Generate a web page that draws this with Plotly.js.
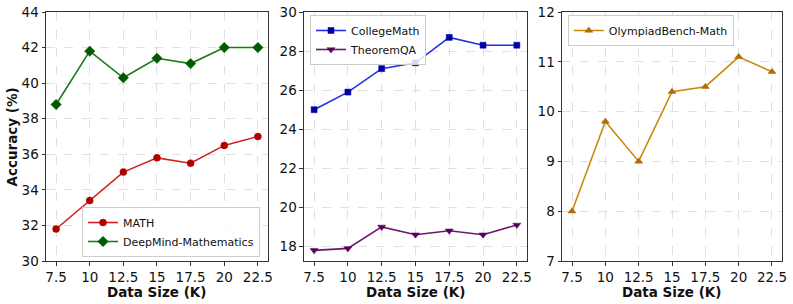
<!DOCTYPE html>
<html><head><meta charset="utf-8">
<script src="https://cdn.plot.ly/plotly-3.0.1.min.js"></script>
<style>html,body{margin:0;padding:0;background:#fff;}#chart{width:793px;height:304px;}</style>
</head><body><div id="chart"></div>
<script>
const dataSize = [7.5, 10, 12.5, 15, 17.5, 20, 22.5];
const xTickVals = [7.5, 10, 12.5, 15, 17.5, 20, 22.5];
const xTickText = ['7.5', '10', '12.5', '15', '17.5', '20', '22.5'];
const mathAcc = [31.8, 33.4, 35.0, 35.8, 35.5, 36.5, 37.0];
const deepmindAcc = [38.8, 41.8, 40.3, 41.4, 41.1, 42.0, 42.0];
const collegeMathAcc = [25.0, 25.9, 27.1, 27.4, 28.7, 28.3, 28.3];
const theoremQAAcc = [17.8, 17.9, 19.0, 18.6, 18.8, 18.6, 19.1];
const olympiadAcc = [8.0, 9.8, 9.0, 10.4, 10.5, 11.1, 10.8];
const xTitle = 'Data Size (K)';
const yTitle = 'Accuracy (%)';

const F = 'DejaVu Sans, sans-serif';
const TF = 13.5;
function tr(y, name, line, mk, sym, xa, ya, lg, size) {
  return {x: dataSize, y: y, name: name, type: 'scatter', mode: 'lines+markers',
    xaxis: xa, yaxis: ya, legend: lg,
    line: {color: line, width: 1.6},
    marker: {color: mk, symbol: sym, size: size || 7, line: {color: mk, width: 0.5}}};
}
const traces = [
  tr(mathAcc, 'MATH', '#d42020', '#b00000', 'circle', 'x', 'y', 'legend'),
  tr(deepmindAcc, 'DeepMind-Mathematics', '#1a7a1a', '#005a00', 'diamond', 'x', 'y', 'legend', 8),
  tr(collegeMathAcc, 'CollegeMath', '#2030e0', '#0000aa', 'square', 'x2', 'y2', 'legend2', 6),
  tr(theoremQAAcc, 'TheoremQA', '#6a1a6a', '#5a005a', 'triangle-down', 'x2', 'y2', 'legend2', 7),
  tr(olympiadAcc, 'OlympiadBench-Math', '#c8880a', '#b06c00', 'triangle-up', 'x3', 'y3', 'legend3', 7)
];
function xa(dom, anchor) {
  return {domain: dom, anchor: anchor, range: [6.75, 23.25], tickvals: xTickVals, ticktext: xTickText,
    showline: true, mirror: true, linecolor: '#333', linewidth: 1, ticks: 'outside', ticklen: 3.5, tickcolor: '#333',
    showgrid: true, gridcolor: '#d8d8d8', griddash: 'dash', gridwidth: 0.8, zeroline: false,
    tickfont: {family: F, size: TF, color: '#111'}};
}
function ya(range, anchor, dtick) {
  return {domain: [0, 1], anchor: anchor, range: range, dtick: dtick, tick0: 0,
    showline: true, mirror: true, linecolor: '#333', linewidth: 1, ticks: 'outside', ticklen: 3.5, tickcolor: '#333',
    showgrid: true, gridcolor: '#d8d8d8', griddash: 'dash', gridwidth: 0.8, zeroline: false,
    tickfont: {family: F, size: TF, color: '#111'}};
}
function lg(x, y, xanchor, yanchor) {
  return {x: x, y: y, xanchor: xanchor, yanchor: yanchor, xref: 'paper', yref: 'paper',
    bgcolor: 'rgba(255,255,255,0.85)', bordercolor: '#ccc', borderwidth: 1,
    font: {family: F, size: 11, color: '#111'}, tracegroupgap: 0, itemwidth: 30};
}
function xTitleAnn(cx) {
  return {text: '<b>' + xTitle + '</b>', xref: 'paper', yref: 'paper', x: cx, y: -0.1225,
    xanchor: 'center', yanchor: 'middle', showarrow: false, font: {family: F, size: 13.5, color: '#111'}};
}
const layout = {
  width: 793, height: 304, margin: {l: 46, r: 11, t: 12, b: 43},
  paper_bgcolor: '#fff', plot_bgcolor: '#fff', showlegend: true,
  xaxis: xa([0, 0.3016], 'y'), yaxis: ya([30, 44], 'x', 2),
  xaxis2: xa([0.3505, 0.6535], 'y2'), yaxis2: ya([17.255, 30], 'x2', 2),
  xaxis3: xa([0.7011, 1], 'y3'), yaxis3: ya([7, 12], 'x3', 1),
  legend: lg(0.2908, 0.016, 'right', 'bottom'),
  legend2: lg(0.3587, 0.988, 'left', 'top'),
  legend3: lg(0.709, 0.988, 'left', 'top'),
  annotations: [
    xTitleAnn(0.1508), xTitleAnn(0.502), xTitleAnn(0.8505),
    {text: '<b>' + yTitle + '</b>', xref: 'paper', yref: 'paper', x: -0.0462, y: 0.5, textangle: -90,
     xanchor: 'center', yanchor: 'middle', showarrow: false, font: {family: F, size: 13.5, color: '#111'}}
  ]
};
Plotly.newPlot('chart', traces, layout, {staticPlot: true});
</script></body></html>
